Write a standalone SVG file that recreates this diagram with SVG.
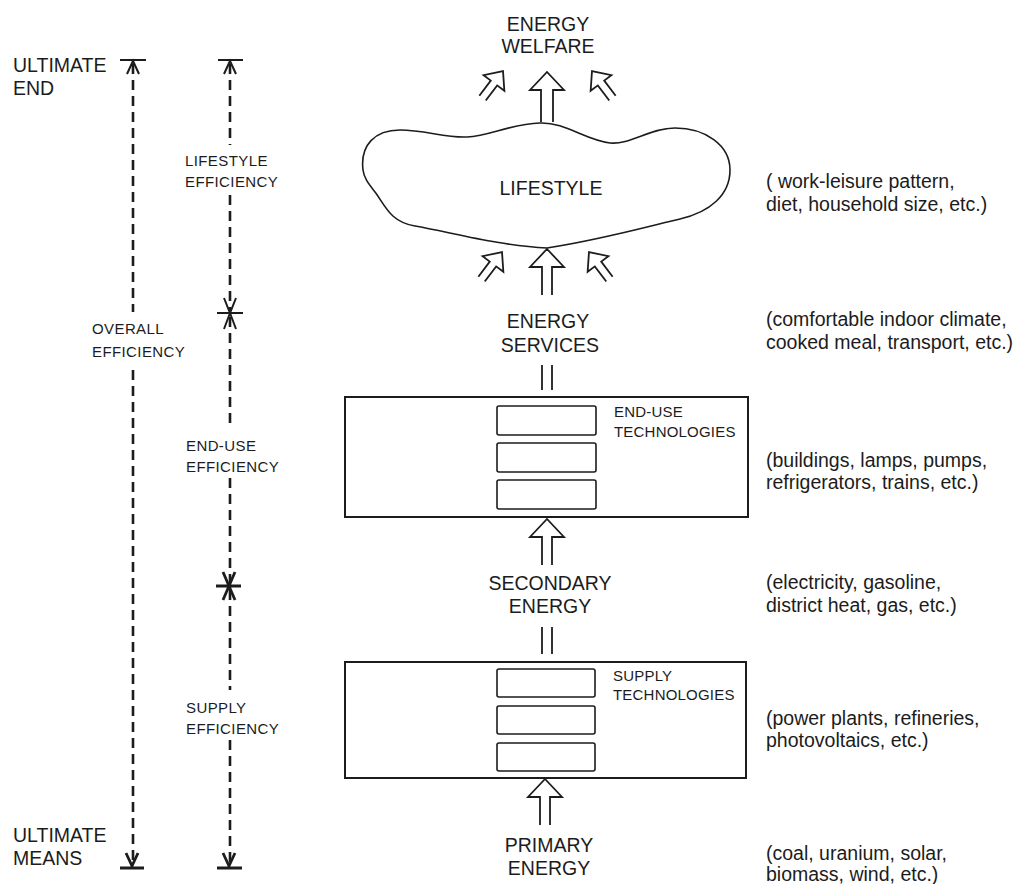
<svg xmlns="http://www.w3.org/2000/svg" width="1020" height="884" viewBox="0 0 1020 884">
<style>
text{font-family:"Liberation Sans",Arial,sans-serif;fill:#1c1c1c}
.big{font-size:19.5px;text-anchor:middle}
.side{font-size:19.5px}
.small{font-size:15px;letter-spacing:0.4px}
.tech{font-size:15px;letter-spacing:0.2px}
.dash{stroke:#1c1c1c;stroke-width:2.6;stroke-dasharray:10 6;fill:none}
.mark{stroke:#1c1c1c;stroke-width:2;fill:none}
.markb{stroke:#1c1c1c;stroke-width:2.8;fill:none;stroke-linejoin:miter}
.arr{stroke:#1c1c1c;stroke-width:1.8;fill:none;stroke-linejoin:miter}
.box{stroke:#1c1c1c;stroke-width:2;fill:none}
.ibox{stroke:#1c1c1c;stroke-width:1.6;fill:none}
</style>
<defs>
<polyline id="upArrow" points="-5,46 -5,18 -17,18 0,0 17,18 5,18 5,46"/>
<polyline id="diagArrow" points="-4,34 -4,15 -13,15 0,0 13,15 4,15 4,34"/>
</defs>

<g id="scale-lines">
<path class="dash" d="M133,64 V312 M133,370 V866"/>
<path class="dash" d="M230,64 V145 M230,195 V310 M230,317 V428 M230,478 V583 M230,590 V690 M230,740 V866"/>
<path class="mark" d="M120,60 H146 M127,74 L133,61 L139,74"/>
<path class="mark" d="M218,60 H243 M224,74 L230,61 L236,74"/>
<path class="mark" d="M217,313 H243 M224,298 L230,313 L236,298 M224,329 L230,313 L236,329"/>
<path class="markb" d="M216,586 H241 M223,572 L229,586 L235,572 M223,600 L229,586 L235,600"/>
<path class="markb" d="M120,868 H144 M126,853 L132,866 L138,853"/>
<path class="markb" d="M217,868 H242 M223,853 L229,866 L235,853"/>
</g>

<g id="label-ultimate-end">
<text class="side" x="13" y="72">ULTIMATE</text>
<text class="side" x="13" y="95">END</text>
</g>
<g id="label-ultimate-means">
<text class="side" x="13" y="842">ULTIMATE</text>
<text class="side" x="13" y="865">MEANS</text>
</g>
<g id="label-overall">
<text class="small" x="92" y="334">OVERALL</text>
<text class="small" x="92" y="357">EFFICIENCY</text>
</g>
<g id="label-lifestyle-eff">
<text class="small" x="185" y="166">LIFESTYLE</text>
<text class="small" x="185" y="187">EFFICIENCY</text>
</g>
<g id="label-enduse-eff">
<text class="small" x="186" y="451">END-USE</text>
<text class="small" x="186" y="472">EFFICIENCY</text>
</g>
<g id="label-supply-eff">
<text class="small" x="186" y="713">SUPPLY</text>
<text class="small" x="186" y="734">EFFICIENCY</text>
</g>

<g id="energy-welfare">
<text class="big" x="548" y="31">ENERGY</text>
<text class="big" x="548" y="53">WELFARE</text>
</g>

<g id="lifestyle">
<path fill="none" stroke="#1c1c1c" stroke-width="1.6" d="M363,170 C360,145 375,130 400,130 C425,130 445,138 467,137 C490,136 510,124 540,123 C565,122 585,140 610,143 C630,145 650,128 675,128 C705,128 730,145 730,170 C730,195 710,212 680,219 C650,226 600,240 547,248 C500,246 450,232 415,226 C390,222 385,205 375,192 C368,183 364,178 363,170 Z"/>
<text class="big" x="551" y="195">LIFESTYLE</text>
</g>

<g id="energy-services">
<text class="big" x="548" y="328">ENERGY</text>
<text class="big" x="550" y="352">SERVICES</text>
</g>

<g id="enduse-tech">
<rect class="box" x="345" y="397" width="403" height="120"/>
<rect class="ibox" x="497" y="406" width="99" height="29" rx="2"/>
<rect class="ibox" x="497" y="443" width="99" height="29" rx="2"/>
<rect class="ibox" x="497" y="480" width="99" height="29" rx="2"/>
<text class="tech" x="614" y="417">END-USE</text>
<text class="tech" x="614" y="437">TECHNOLOGIES</text>
</g>

<g id="secondary-energy">
<text class="big" x="550" y="590">SECONDARY</text>
<text class="big" x="550" y="613">ENERGY</text>
</g>

<g id="supply-tech">
<rect class="box" x="345" y="662" width="401" height="116"/>
<rect class="ibox" x="497" y="669" width="98" height="28" rx="2"/>
<rect class="ibox" x="497" y="706" width="98" height="28" rx="2"/>
<rect class="ibox" x="497" y="743" width="98" height="28" rx="2"/>
<text class="tech" x="613" y="681">SUPPLY</text>
<text class="tech" x="613" y="700">TECHNOLOGIES</text>
</g>

<g id="primary-energy">
<text class="big" x="549" y="852">PRIMARY</text>
<text class="big" x="549" y="875">ENERGY</text>
</g>

<g id="examples">
<text class="side" x="766" y="188">( work-leisure pattern,</text>
<text class="side" x="766" y="211">diet, household size, etc.)</text>
<text class="side" x="766" y="326">(comfortable indoor climate,</text>
<text class="side" x="766" y="349">cooked meal, transport, etc.)</text>
<text class="side" x="766" y="467">(buildings, lamps, pumps,</text>
<text class="side" x="766" y="489">refrigerators, trains, etc.)</text>
<text class="side" x="766" y="589">(electricity, gasoline,</text>
<text class="side" x="766" y="612">district heat, gas, etc.)</text>
<text class="side" x="766" y="725">(power plants, refineries,</text>
<text class="side" x="766" y="747">photovoltaics, etc.)</text>
<text class="side" x="766" y="860">(coal, uranium, solar,</text>
<text class="side" x="766" y="881">biomass, wind, etc.)</text>
</g>

<g id="connectors">
<polyline class="arr" points="541,122 541,90 530,90 547,72 564,90 553,90 553,122"/>
<use href="#diagArrow" class="arr" transform="translate(503,71) rotate(37)"/>
<use href="#diagArrow" class="arr" transform="translate(592,71) rotate(-37)"/>
<use href="#upArrow" class="arr" transform="translate(547,249)"/>
<use href="#diagArrow" class="arr" transform="translate(502,252) rotate(37)"/>
<use href="#diagArrow" class="arr" transform="translate(589,252) rotate(-37)"/>
<path class="arr" d="M542,365 V390 M552,365 V390"/>
<use href="#upArrow" class="arr" transform="translate(547,519)"/>
<path class="arr" d="M542,627 V654 M552,627 V654"/>
<use href="#upArrow" class="arr" transform="translate(545,779)"/>
</g>
</svg>
